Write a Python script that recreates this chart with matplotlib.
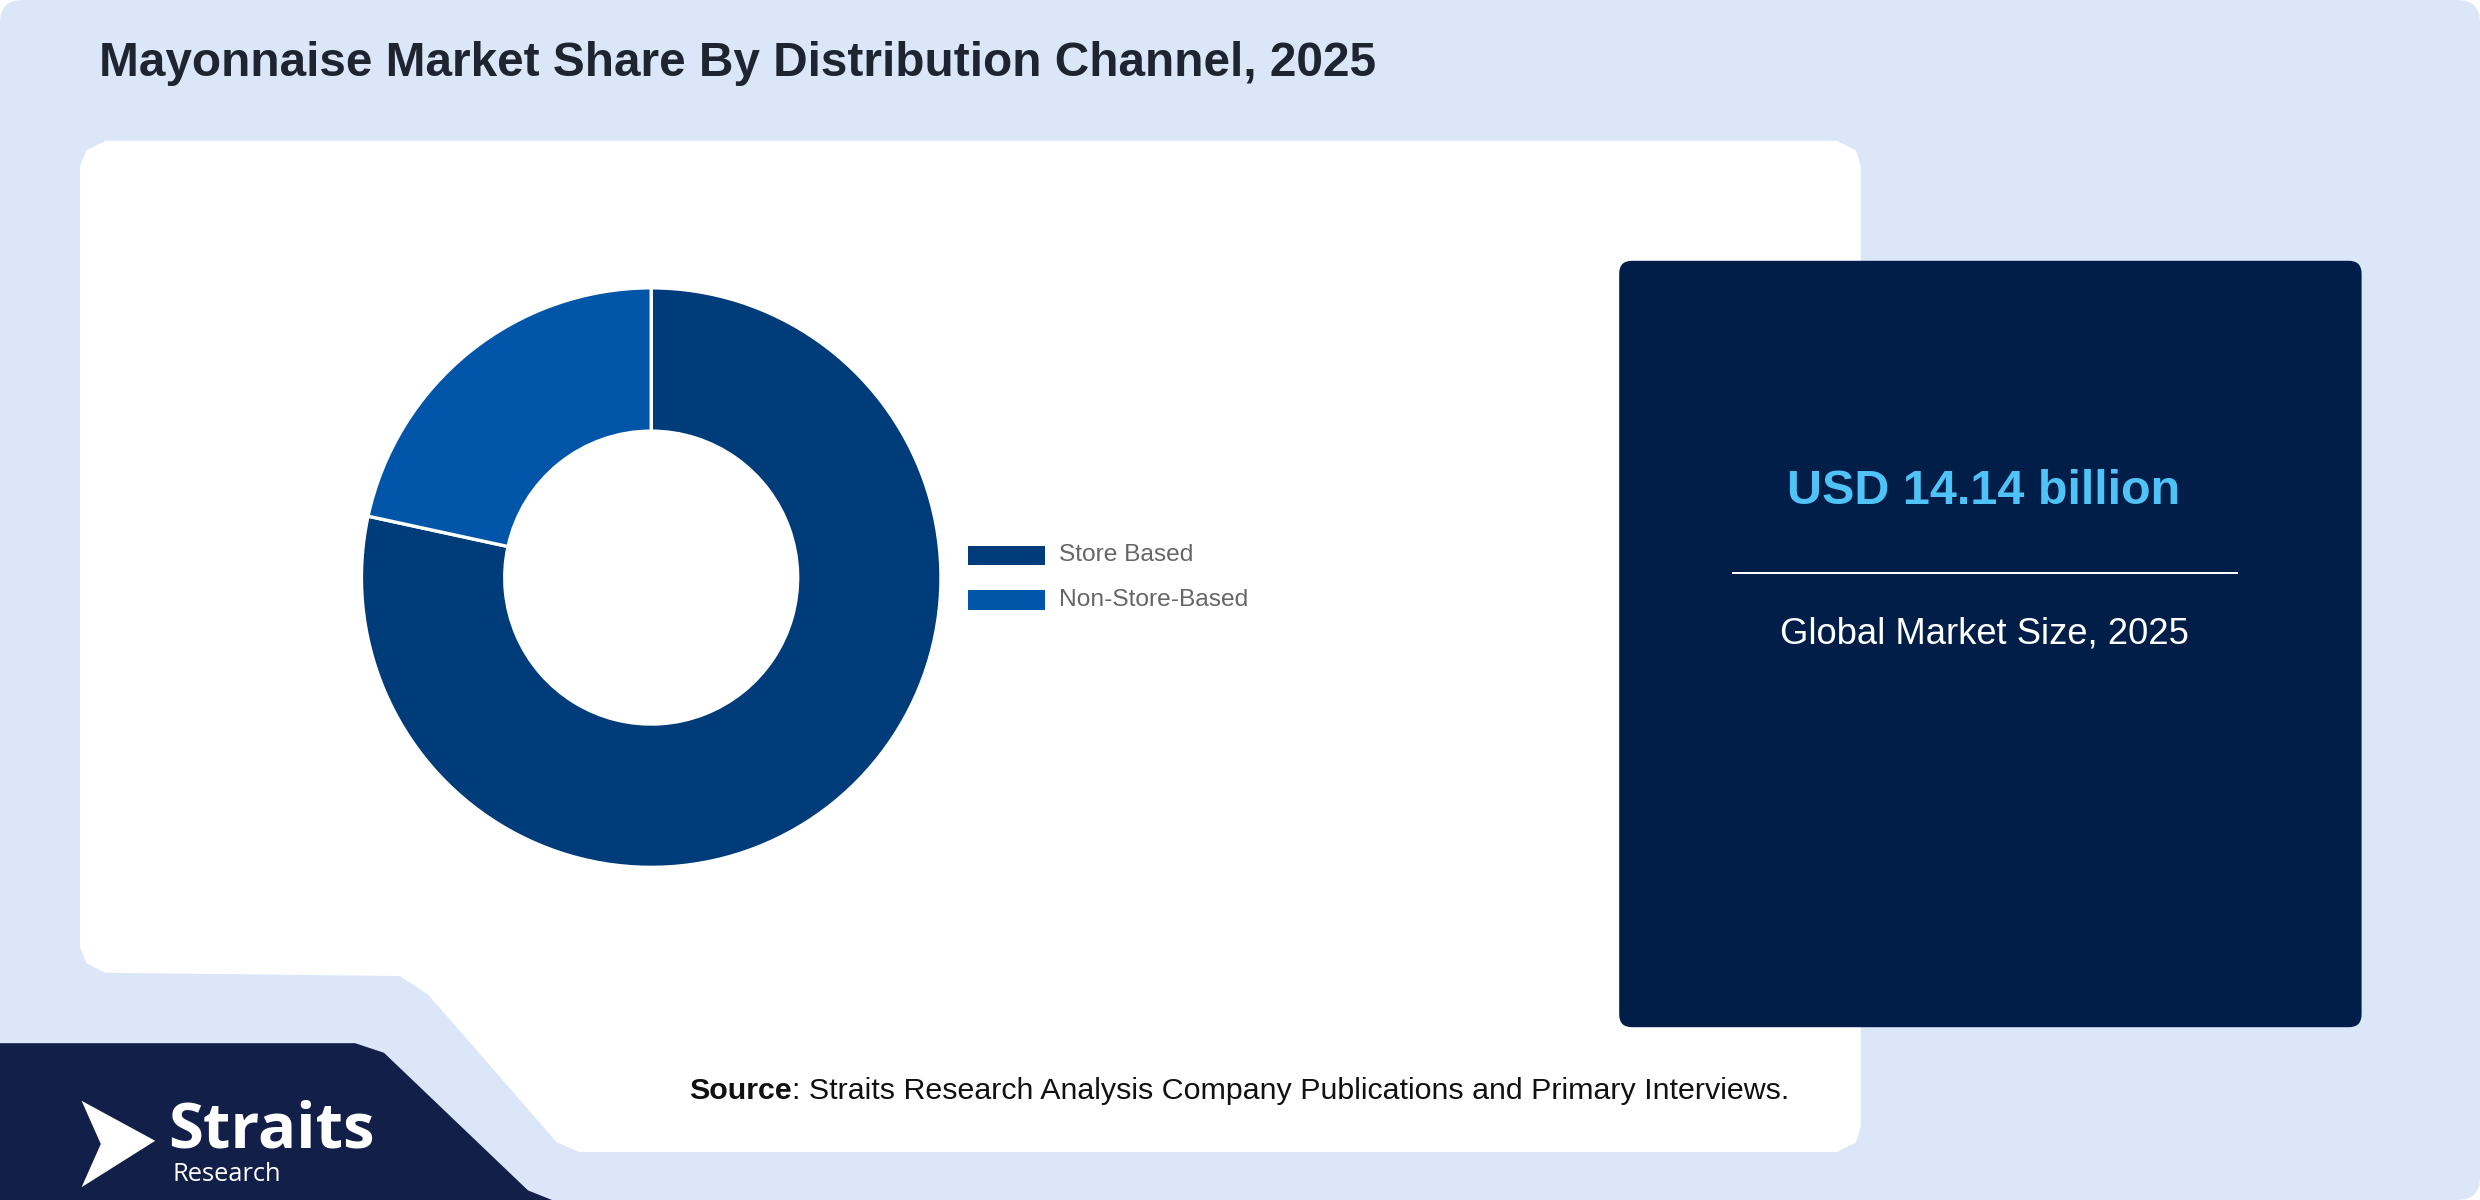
import matplotlib
matplotlib.use("Agg")
import matplotlib.pyplot as plt
from matplotlib.patches import FancyBboxPatch, Polygon

categories = ["Store Based", "Non-Store-Based"]
shares = [78.4, 21.6]
colors = ["#003b7a", "#0055a9"]
title = "Mayonnaise Market Share By Distribution Channel, 2025"
market_value = "USD 14.14 billion"
market_label = "Global Market Size, 2025"

W, H = 1550, 750
fig = plt.figure(figsize=(15.5, 7.5), dpi=160)
ax = fig.add_axes([0, 0, 1, 1])
ax.set_xlim(0, W); ax.set_ylim(H, 0); ax.axis("off")

ax.add_patch(FancyBboxPatch((0, 0), W, H, boxstyle="round,pad=0,rounding_size=14",
                            fc="#dbe7f9", ec="none"))
white = Polygon([(66, 88), (1148, 88), (1160, 94), (1163, 104), (1163, 704), (1160, 714), (1148, 720),
                 (362, 720), (348, 714), (268, 622), (250, 610), (66, 608), (54, 602), (50, 592),
                 (50, 104), (54, 94)],
                closed=True, fc="white", ec="none")
ax.add_patch(white)
ax.add_patch(Polygon([(0, 652), (222, 652), (240, 658), (330, 744), (345, 750), (0, 750)],
                     closed=True, fc="#121f48", ec="none"))
ax.text(62, 40, title, fontsize=21.5, fontweight="bold", color="#1e2530", va="center",
        family="Liberation Sans")

ax.add_patch(FancyBboxPatch((1012, 163), 464, 479, boxstyle="round,pad=0,rounding_size=8",
                            fc="#001e48", ec="none"))
ax.text(1240, 307, market_value, fontsize=21.8, fontweight="bold", color="#4fc3f7",
        ha="center", va="center", family="Liberation Sans")
ax.plot([1083, 1398], [358, 358], color="white", lw=0.9)
ax.text(1240, 396, market_label, fontsize=16.4, color="white", ha="center", va="center",
        family="Liberation Sans")

t = ax.text(431, 682, "Source", fontsize=13.7, fontweight="bold", color="#111", va="center",
            family="Liberation Sans")
ax.annotate(": Straits Research Analysis Company Publications and Primary Interviews.",
            xy=(1, 0.5), xycoords=t, va="center", fontsize=13.7, color="#111",
            family="Liberation Sans")

ax.add_patch(Polygon([(51, 688), (97, 713), (51, 742), (63, 715)], closed=True, fc="white", ec="none"))
ax.text(105, 707, "Straits", fontsize=28.5, fontweight="bold", color="white", va="center",
        family="Open Sans")
ax.text(108, 734, "Research", fontsize=11.5, color="white", va="center", family="Open Sans")

cx, cy, r = 407, 361, 182
pax = fig.add_axes([(cx - r) / W, 1 - (cy + r) / H, 2 * r / W, 2 * r / H])
pax.pie(shares, colors=colors, startangle=90, counterclock=False,
        wedgeprops=dict(width=90 / 182, edgecolor="white", linewidth=1.5))
pax.set_aspect("auto")
pax.set_xlim(-1.005, 1.005); pax.set_ylim(-1.005, 1.005)
pax.axis("off")

for i, (c, col) in enumerate(zip(categories, colors)):
    y = 347 + i * 28
    ax.add_patch(plt.Rectangle((605, y - 6), 48, 12, fc=col, ec="none"))
    ax.text(662, y, c, fontsize=11, color="#666", va="center", family="Liberation Sans")

fig.savefig("out.png", dpi=160)
